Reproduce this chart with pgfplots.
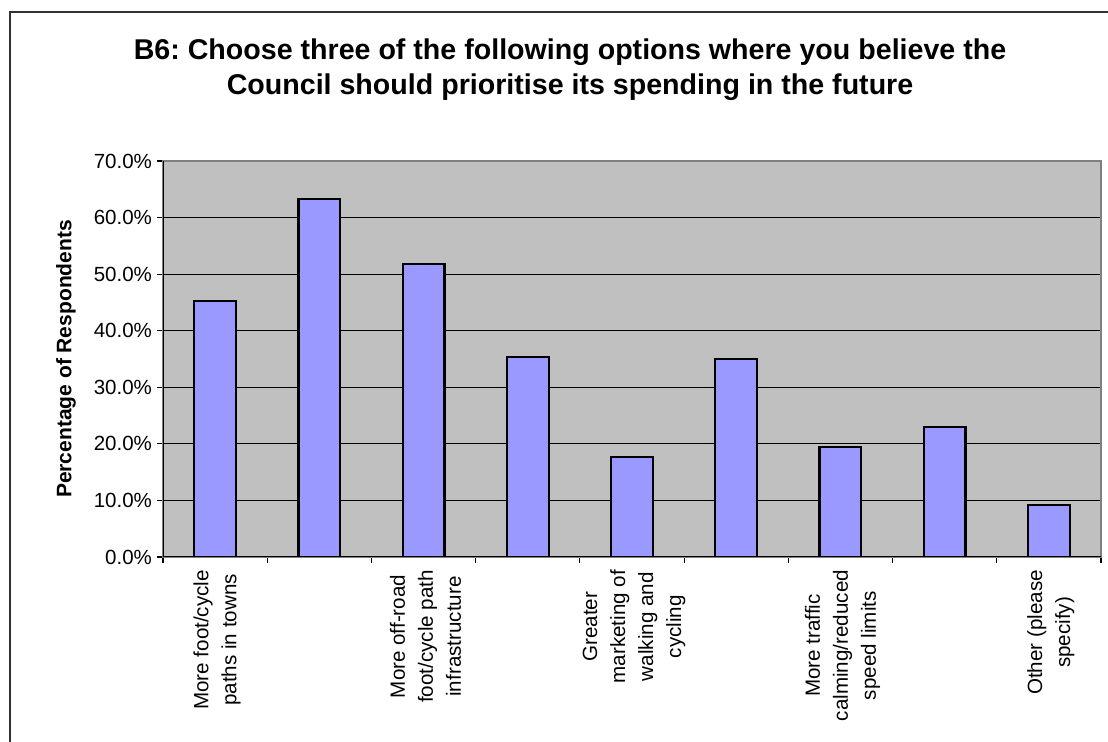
\documentclass[border=0pt]{standalone}
\usepackage{fontspec}
\setmainfont{Liberation Sans}
\usepackage{pgfplots}
\pgfplotsset{compat=1.18}
\definecolor{barblue}{HTML}{9999FF}
\definecolor{plotgray}{HTML}{C0C0C0}
\definecolor{edgegray}{HTML}{808080}
\frenchspacing
\begin{document}
\begin{tikzpicture}[x=1pt,y=1pt]
\useasboundingbox (0,0) rectangle (554,371);
\draw[line width=1pt, black!80] (5,-20) rectangle (600,365);
\node[font=\fontsize{14.3}{19}\selectfont\bfseries, anchor=base, inner sep=0pt] at (285,341) {B6: Choose three of the following options where you believe the};
\node[font=\fontsize{14.3}{19}\selectfont\bfseries, anchor=base, inner sep=0pt] at (285,323.5) {Council should prioritise its spending in the future};
\begin{axis}[
  at={(81.5pt,92.5pt)}, anchor=south west,
  width=469pt, height=198pt, scale only axis,
  xmin=0.5, xmax=9.5, ymin=0, ymax=70,
  axis background/.style={fill=plotgray},
  axis line style={draw=edgegray, line width=0.6pt},
  ymajorgrids, major grid style={black, line width=0.6pt},
  tick align=outside, tick style={black, line width=0.6pt},
  xtick pos=bottom, ytick pos=left,
  ytick={0,10,20,30,40,50,60,70},
  yticklabels={0.0\%,10.0\%,20.0\%,30.0\%,40.0\%,50.0\%,60.0\%,70.0\%},
  major tick length=3pt, minor tick length=3pt,
  xtick={1,3,5,7,9},
  x tick style={draw=none},
  minor xtick={0.5,1.5,2.5,3.5,4.5,5.5,6.5,7.5,8.5,9.5},
  minor x tick style={draw=black},
  xticklabels={{More foot/cycle\\paths in towns},{More off-road\\foot/cycle path\\infrastructure},{Greater\\marketing of\\walking and\\cycling},{More traffic\\calming/reduced\\speed limits},{Other (please\\specify)}},
  xticklabel style={rotate=90, anchor=east, align=center, font=\fontsize{10.3}{14}\selectfont, yshift=-1pt},
  yticklabel style={font=\fontsize{10.25}{12}\selectfont, xshift=1pt},
  /pgf/number format/assume math mode=true,
  ylabel={Percentage of Respondents},
  ylabel style={font=\bfseries\fontsize{10.5}{12}\selectfont, at={(axis description cs:-0.1034,0.5)}, anchor=center},
]
\addplot[ybar, bar width=0.4, fill=barblue, draw=black, line width=1.1pt] coordinates {
(1,45.3) (2,63.3) (3,51.8) (4,35.4) (5,17.7) (6,35.0) (7,19.5) (8,23.0) (9,9.2)
};
\draw[black, line width=0.6pt] (rel axis cs:0,1) -- (rel axis cs:0,0) -- (rel axis cs:1,0);
\end{axis}
\end{tikzpicture}
\end{document}
